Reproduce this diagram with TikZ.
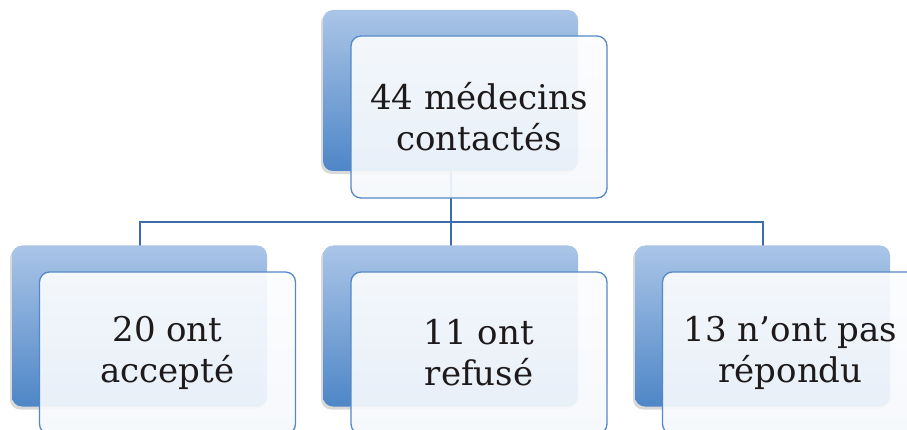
\documentclass[tikz,border=0pt]{standalone}
\usepackage{fontspec}
\defaultfontfeatures{}
\setmainfont{DejaVu Serif}
\usetikzlibrary{positioning,shadows}
\pgfdeclarelayer{bg}
\pgfsetlayers{bg,main}
\definecolor{boxtop}{RGB}{170,197,231}
\definecolor{boxbot}{RGB}{78,134,199}
\definecolor{edge}{RGB}{84,136,198}
\definecolor{wire}{RGB}{62,108,170}
\definecolor{ink}{RGB}{30,26,27}
\tikzstyle{back}=[rounded corners=10pt,minimum width=255pt,minimum height=161pt,top color=boxtop,bottom color=boxbot,drop shadow={shadow xshift=-2pt,shadow yshift=-3pt,opacity=0.3}]
\tikzstyle{front}=[rounded corners=10pt,minimum width=256pt,minimum height=162pt,draw=edge,line width=1.3pt,top color=white!96!boxtop,bottom color=white!88!boxtop,fill opacity=0.92,text opacity=1,text=ink,align=center,font=\fontsize{34}{41}\selectfont]
\tikzstyle{link}=[draw=wire,line width=2pt]

\begin{document}
\begin{tikzpicture}[x=1pt,y=-1pt]
  \useasboundingbox (0,0) rectangle (907,430);
  \clip (0,0) rectangle (907,430);

  \node [back] at (450.5, 90.5) (top) {};
  \node [back] at (139.5, 326) (acc) {};
  \node [back] at (450.5, 326) (ref) {};
  \node [back] at (762.5, 326) (nrep) {};
  \coordinate (bus) at (450.5,222);

  % connectors behind the boxes
  \begin{pgfonlayer}{bg}
    \draw [link] (top.center) -- (bus);
    \draw [link] (bus) -| (acc.center);
    \draw [link] (bus) -| (nrep.center);
    \draw [link] (bus) -- (ref.center);
  \end{pgfonlayer}

  \node [front] at (479, 117) (topt) {44 médecins\\contactés};
  \node [front] at (167.5, 353) (acct) {20 ont\\accepté};
  \node [front] at (479, 353) (reft) {11 ont\\refusé};
  \node [front] at (790.5, 353) (nrept) {13 n'ont pas\\répondu};
\end{tikzpicture}
\end{document}
